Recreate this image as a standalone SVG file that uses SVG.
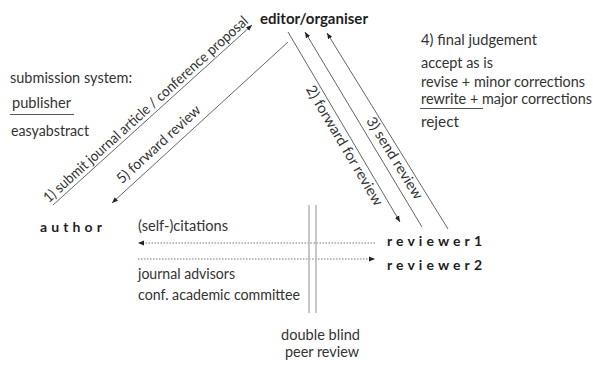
<svg xmlns="http://www.w3.org/2000/svg" width="593" height="370" viewBox="0 0 593 370">
<defs>
<style>
text{font-family:Lato,"Liberation Sans",sans-serif;font-size:14.5px;fill:#333}
.b{font-weight:bold;fill:#1e1e1e}
.ln{stroke:#666;stroke-width:1;fill:none}
.dot{stroke:#777;stroke-width:1;stroke-dasharray:1.5 1.5;fill:none}
.v{stroke:#aaa;stroke-width:1.3;fill:none}
.ul{stroke:#555;stroke-width:1}
</style>
<marker id="ah" viewBox="0 0 10 10" refX="10" refY="5" markerWidth="6" markerHeight="6" markerUnits="userSpaceOnUse" orient="auto">
<path d="M0,1 L10,5 L0,9 Z" fill="#222"/>
</marker>
</defs>
<rect width="593" height="370" fill="#fff"/>

<g id="connectors">
<line class="ln" x1="53" y1="205" x2="252" y2="25" marker-end="url(#ah)"/>
<line class="ln" x1="288" y1="42" x2="112" y2="203" marker-end="url(#ah)"/>
<line class="ln" x1="288" y1="32" x2="400" y2="222" marker-end="url(#ah)"/>
<line class="ln" x1="422" y1="227" x2="305" y2="32" marker-end="url(#ah)"/>
<line class="ln" x1="448" y1="229" x2="327" y2="33" marker-end="url(#ah)"/>
<line class="dot" x1="375" y1="243" x2="138" y2="243" marker-end="url(#ah)"/>
<line class="dot" x1="138" y1="259" x2="375" y2="259" marker-end="url(#ah)"/>
<text transform="translate(53,205) rotate(-42.1)" x="-2" y="-4" textLength="270" lengthAdjust="spacingAndGlyphs">1) submit journal article / conference proposal</text>
<text transform="translate(112,203) rotate(-42.45)" x="20" y="-7" textLength="108" lengthAdjust="spacingAndGlyphs">5) forward review</text>
<text transform="translate(288,32) rotate(59.4)" x="58" y="14" textLength="137" lengthAdjust="spacingAndGlyphs">2) forward for review</text>
<text transform="translate(327,33) rotate(58.3)" x="95" y="13" textLength="94" lengthAdjust="spacingAndGlyphs">3) send review</text>
</g>

<g id="editor">
<text class="b" x="260" y="24" textLength="108" lengthAdjust="spacingAndGlyphs">editor/organiser</text>
</g>

<g id="author">
<text class="b" x="40" y="232" textLength="62" lengthAdjust="spacing" style="font-size:14px">author</text>
</g>

<g id="reviewer1">
<text class="b" x="387" y="246" textLength="95" lengthAdjust="spacing" style="font-size:14px">reviewer1</text>
</g>

<g id="reviewer2">
<text class="b" x="387" y="270" textLength="95" lengthAdjust="spacing" style="font-size:14px">reviewer2</text>
</g>

<g id="submission-system">
<text x="10" y="83" textLength="122" lengthAdjust="spacingAndGlyphs">submission system:</text>
<text x="12" y="108" textLength="59" lengthAdjust="spacingAndGlyphs">publisher</text>
<line class="ul" x1="10" y1="114.5" x2="74" y2="114.5"/>
<text x="11" y="136" textLength="78" lengthAdjust="spacingAndGlyphs">easyabstract</text>
</g>

<g id="final-judgement">
<text x="421" y="45" textLength="116" lengthAdjust="spacingAndGlyphs">4) final judgement</text>
<text x="421" y="68" textLength="72" lengthAdjust="spacingAndGlyphs">accept as is</text>
<text x="421" y="87" textLength="164" lengthAdjust="spacingAndGlyphs">revise + minor corrections</text>
<text x="421" y="104" textLength="171" lengthAdjust="spacingAndGlyphs">rewrite + major corrections</text>
<line class="ul" x1="420" y1="108.5" x2="483" y2="108.5"/>
<text x="421" y="127" textLength="38" lengthAdjust="spacingAndGlyphs">reject</text>
</g>

<g id="citations">
<text x="138" y="231" textLength="90" lengthAdjust="spacingAndGlyphs">(self-)citations</text>
</g>

<g id="advisors">
<text x="138" y="279" textLength="97" lengthAdjust="spacingAndGlyphs">journal advisors</text>
<text x="138" y="300" textLength="162" lengthAdjust="spacingAndGlyphs">conf. academic committee</text>
</g>

<g id="double-blind">
<line class="v" x1="309" y1="205" x2="309" y2="313"/>
<line class="v" x1="316" y1="205" x2="316" y2="313"/>
<text x="281" y="340" textLength="79" lengthAdjust="spacingAndGlyphs">double blind</text>
<text x="285" y="357" textLength="74" lengthAdjust="spacingAndGlyphs">peer review</text>
</g>
</svg>
